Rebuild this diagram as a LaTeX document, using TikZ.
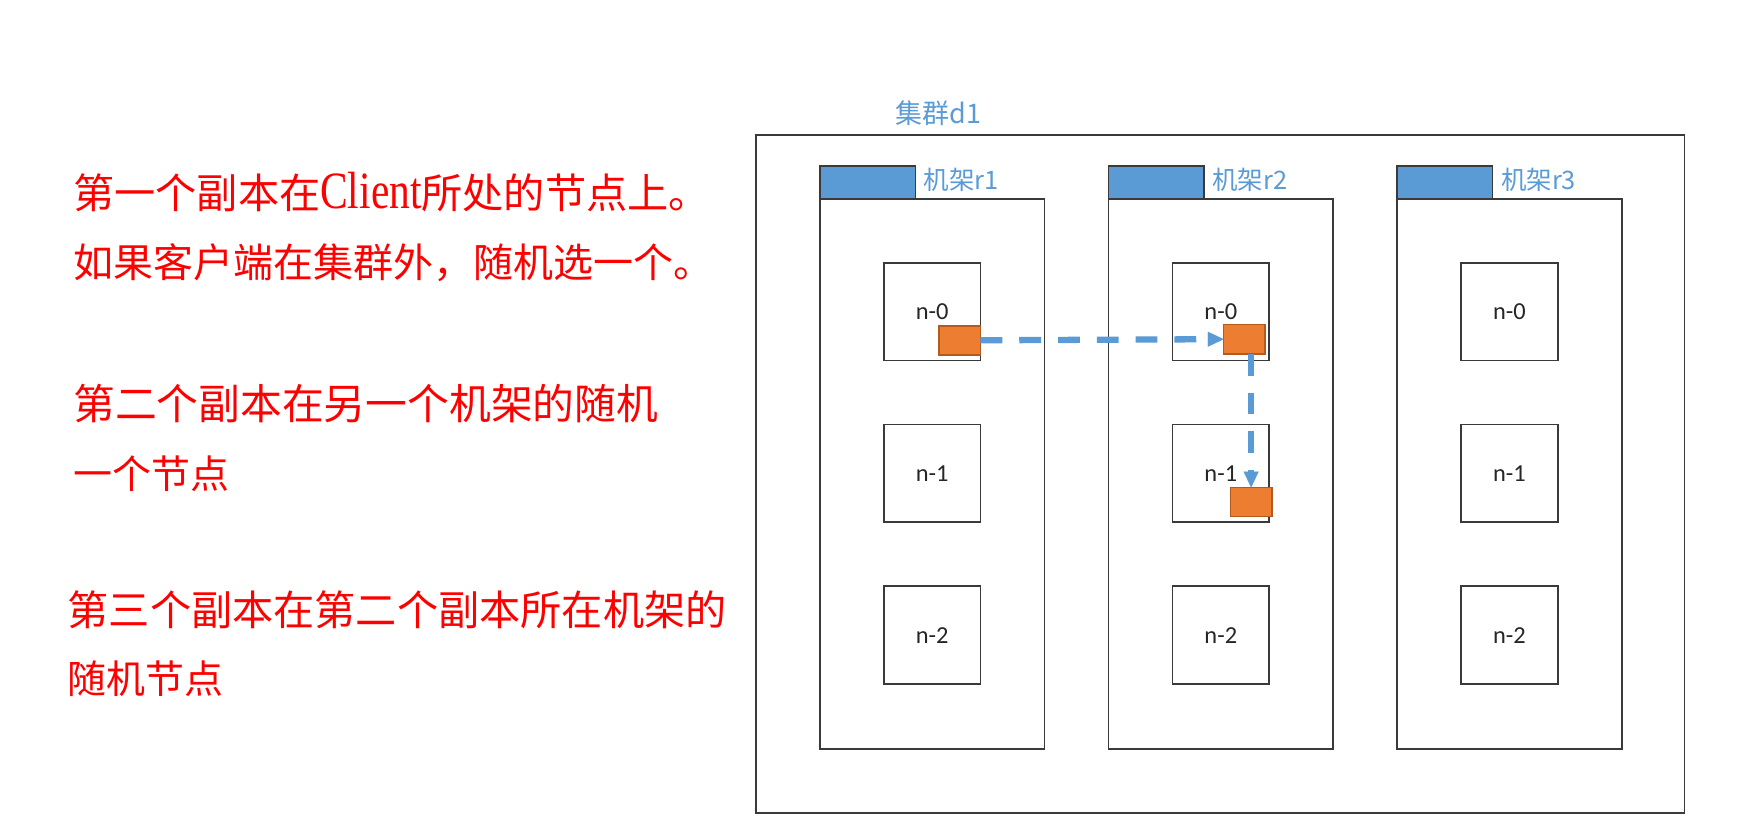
\documentclass[tikz,border=0pt]{standalone}
\usepackage{fontspec}
\setmainfont{Carlito}
\newfontfamily\cjk{Noto Sans CJK SC}
\newfontfamily\lat{Liberation Serif}
\usetikzlibrary{arrows.meta}
\definecolor{lblue}{HTML}{5B9BD5}
\definecolor{orng}{HTML}{ED7D31}
\definecolor{orngd}{HTML}{B55A1E}
\definecolor{boxc}{HTML}{3A3A3A}
\tikzset{
  box/.style={draw=boxc, line width=1.1pt, inner sep=0pt, outer sep=0pt, anchor=north west},
  tabbox/.style={box, fill=lblue, minimum width=63.75pt, minimum height=21.75pt},
  rackbody/.style={box, fill=white, minimum width=150pt, minimum height=367.5pt},
  srv/.style={box, fill=white, minimum width=64.5pt, minimum height=65.25pt, font=\fontsize{16.3}{19}\selectfont, text=black!85},
  blk/.style={draw=orngd, line width=1.1pt, fill=orng, inner sep=0pt, outer sep=0pt, minimum width=27.75pt, minimum height=19.5pt},
  flow/.style={draw=lblue, line width=4.2pt, dash pattern=on 14.6pt off 11.3pt, -{Triangle[length=10.5pt,width=10pt,line width=0.01pt]}},
  bluelbl/.style={text=lblue, font=\cjk\fontsize{17}{20}\selectfont, inner sep=0pt, anchor=west},
  redtxt/.style={text=red, font=\cjk\fontsize{26}{30}\selectfont, inner sep=0pt, anchor=west},
  redbig/.style={redtxt, font=\cjk\fontsize{27.5}{32}\selectfont},
}
\begin{document}
\begin{tikzpicture}[x=0.75pt,y=-0.75pt]
\useasboundingbox (0,0) rectangle (1568,732);
% left texts
\node[redbig] (t1) at (65,171) {第一个副本在\scalebox{0.79}[1]{\lat\fontsize{35}{40}\selectfont Client}所处的节点上。};
\node[redtxt, font=\cjk\fontsize{26.7}{31}\selectfont] (t2) at (65,234) {如果客户端在集群外，随机选一个。};
\node[redbig, font=\cjk\fontsize{27.9}{32}\selectfont] (t3) at (65,359) {第二个副本在另一个机架的随机};
\node[redtxt] (t4) at (65,421.5) {一个节点};
\node[redbig] (t5) at (60,543) {第三个副本在第二个副本所在机架的};
\node[redtxt] (t6) at (60,604.5) {随机节点};
% cluster
\node[box, minimum width=620.25pt, minimum height=453pt] (cl) at (673,120) {};
\node[bluelbl, font=\cjk\fontsize{18}{21}\selectfont] (cllbl) at (797,101) {集群d1};
% racks
\foreach \i/\x in {1/730,2/987,3/1244}{
  \node[rackbody] (rb\i) at (\x,177) {};
  \node[tabbox] (rt\i) at (\x,148) {};
  \node[bluelbl] (rl\i) at ([xshift=5.5pt,yshift=1.8pt]rt\i.east) {机架r\i};
  \foreach \j/\y in {0/234,1/378,2/522}{
    \node[srv] (n\i\j) at ({\x+57},\y) {n-\j};
  }
}
% replicas
\node[blk] (o1) at (854.5,303) {};
\node[blk] (o2) at (1108,302) {};
\node[blk] (o3) at (1114,447) {};
\draw[flow] (o1.east) -- (o2.west);
\draw[flow] (o2.south -| o3.north) -- (o3.north);
\end{tikzpicture}
\end{document}
